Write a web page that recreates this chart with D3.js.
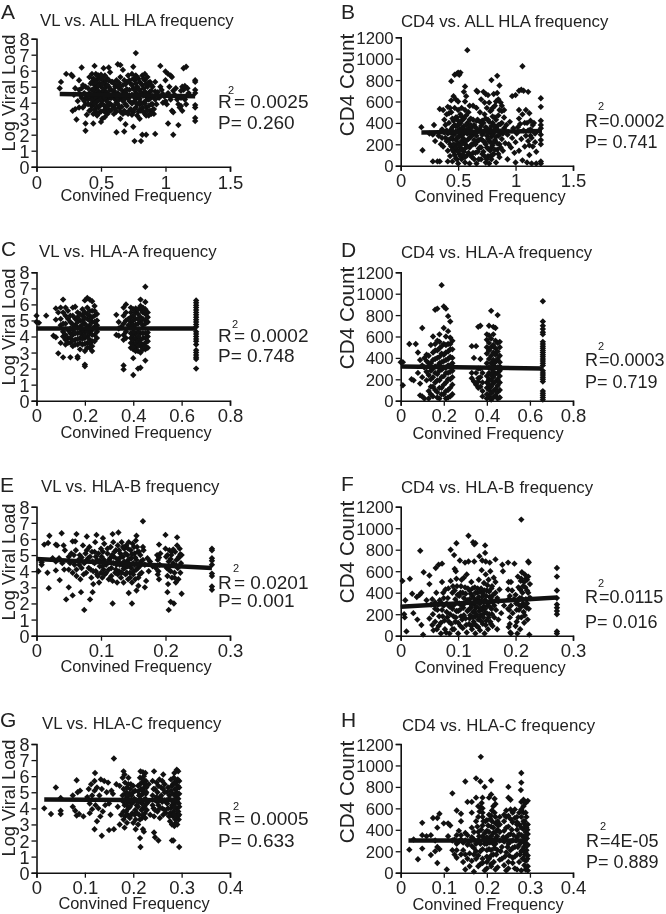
<!DOCTYPE html>
<html><head><meta charset="utf-8">
<script src="https://cdn.jsdelivr.net/npm/d3@7"></script>
<style>html,body{margin:0;padding:0;background:#fff}svg{display:block;font-family:"Liberation Sans",Arial,sans-serif;filter:blur(.3px)}text{fill:#222}</style>
</head><body><svg id="c" width="666" height="914"></svg>
<script>
const pointsA=[[.77,7.1],[.35,6.2],[.45,6.3],[.52,6.15],[.56,6.2],[.63,6.4],[.65,6.35],[.67,6.05],[.75,6.25],[.96,6.3],[1.14,6.15],[1.16,6.25],[1.0,5.95],[1.02,5.8],[1.04,5.7],[1.05,5.6],[.23,5.8],[.27,5.75],[.28,5.65],[.19,5.3],[.33,5.4],[.18,4.9],[.28,3.5],[.3,3.6],[.31,2.95],[.32,4.1],[.33,3.7],[.38,2.7],[.38,2.25],[.39,3.25],[.44,2.7],[.5,2.8],[.62,2.15],[.65,3],[.68,2.2],[.69,2.65],[.75,2.5],[.76,1.6],[.81,1.6],[.82,2],[.85,2],[.92,2.05],[1.02,2.7],[1.06,2],[1.1,2.6],[1.23,5.4],[1.23,5.3],[1.23,4.8],[1.23,4.6],[1.23,3.85],[1.23,3.7],[1.23,3.05],[1.23,2.85],[.3,4.9],[.29,4.5],[.35,4.9],[.35,4.3],[.36,5.1],[.37,4.6],[.38,3.9],[.38,5],[.4,4.2],[.4,4.9],[.41,3.5],[.41,5.6],[.42,4.4],[.42,5.2],[.43,3.8],[.43,5.8],[.43,4.8],[.44,3.3],[.44,4.1],[.44,5.5],[.45,4.6],[.45,3.6],[.45,5.1],[.46,5.8],[.46,4],[.46,4.9],[.47,3.2],[.47,4.4],[.47,5.4],[.48,3.7],[.48,4.7],[.48,5.7],[.49,4.2],[.49,5.2],[.49,3.4],[.5,4.5],[.5,5],[.5,3.9],[.5,5.5],[.51,3],[.51,4.7],[.51,4.1],[.52,3.5],[.52,5.3],[.52,4.4],[.53,3.1],[.53,4.9],[.53,3.8],[.53,5.7],[.54,4.2],[.54,5.1],[.55,3.3],[.55,4.6],[.55,5.5],[.56,3.9],[.56,5],[.57,4.3],[.57,5.9],[.57,3.5],[.58,4.8],[.59,3.8],[.59,5.3],[.6,4.4],[.6,3.3],[.61,5],[.62,4],[.62,5.4],[.63,4.6],[.64,3.7],[.65,5.6],[.66,4.3],[.67,5.1],[.68,3.5],[.68,4.7],[.69,3.9],[.7,5.3],[.7,4.4],[.71,3.3],[.71,5.7],[.72,4.8],[.72,4.1],[.73,3.6],[.73,5.2],[.74,4.5],[.74,5.8],[.75,3.4],[.75,4.9],[.76,4.1],[.76,5.4],[.77,3.7],[.77,4.6],[.77,5.7],[.78,3.2],[.78,5],[.79,4.3],[.79,5.5],[.8,3.9],[.8,4.8],[.8,3],[.81,5.2],[.81,3.5],[.82,4.5],[.82,5.7],[.83,4],[.83,4.9],[.84,3.3],[.84,5.4],[.84,5.8],[.85,4.4],[.85,3.7],[.86,5],[.86,5.6],[.87,3.2],[.87,4.2],[.88,4.7],[.88,5.3],[.88,3.5],[.89,3.9],[.89,3.3],[.9,5],[.9,4.4],[.91,3.3],[.91,3.6],[.92,4.7],[.93,3.9],[.95,4.3],[.96,5],[.97,4.8],[.98,4],[.99,4.4],[1,5.4],[1.01,3.9],[1.02,4.6],[1.03,5],[1.04,4.2],[1.05,3.5],[1.06,3.4],[1.07,4.5],[1.08,4.9],[1.1,3.9],[1.11,3.7],[1.12,4.3],[1.13,5],[1.13,3.5],[1.14,4.8],[1.15,4.2],[1.16,3.9],[1.17,4.9],[1.18,4.6],
[.41,4.6],[.42,3.9],[.43,5.3],[.44,4.45],[.45,3.95],[.45,5.45],[.46,4.3],[.46,5.25],[.47,3.75],[.47,4.8],[.48,4.15],[.48,5.05],[.49,3.8],[.49,4.6],[.49,5.6],[.5,3.45],[.5,4.25],[.51,5.15],[.51,5.55],[.52,3.85],[.52,4.75],[.53,4.3],[.53,3.45],[.54,4.65],[.54,5.4],[.54,3.65],[.55,4.05],[.55,5.1],[.56,4.4],[.56,3.55],[.56,5.4],[.57,4.8],[.57,3.95],[.58,4.3],[.58,5.3],[.59,4.5],[.6,3.8],[.6,5.2],[.61,4.2],[.63,5.1],[.64,4.2],[.7,3.8],[.7,4.85],[.71,4.3],[.72,5.4],[.72,3.5],[.73,4.4],[.74,3.95],[.74,5.1],[.75,4.4],[.75,5.5],[.76,3.6],[.76,4.8],[.77,4.25],[.77,5.2],[.78,3.9],[.78,4.55],[.78,5.6],[.79,3.45],[.79,4.85],[.8,4.25],[.8,5.3],[.8,3.55],[.81,4.6],[.81,4],[.82,5.1],[.82,3.7],[.83,4.45],[.83,5.5],[.83,3.45],[.84,4.7],[.84,3.95],[.85,5.15],[.85,4.15],[.86,3.5],[.86,4.55],[.87,5.25],[.87,3.8],[.88,4.25],[.89,4.75],[.89,5.1],[.9,3.55],[.9,3.9],[.91,4.35],[.92,5.3],[.4,3.9],[.39,4.5],[.38,4.3],[.37,4.1],[.36,3.7],[.34,4.5],[.33,4.8],
[.6,4.75],[.61,3.6],[.61,4.6],[.62,4.35],[.62,3.45],[.63,3.9],[.63,4.3],[.64,4.9],[.64,5.25],[.65,3.45],[.65,4.45],[.65,5.05],[.66,3.75],[.66,4.8],[.67,4.1],[.67,3.3],[.67,4.55],[.68,5.4],[.68,4.2],[.69,4.65],[.69,5.15],[.69,3.4],[.42,3.55],[.43,4.2],[.44,4.85],[.46,3.45],[.47,5.7],[.5,5.75],[.55,3.75],[.58,3.55],[.74,3.25],[.79,3.95],[.85,3.2],[.92,4.2],[.94,4.65],[.98,4.55],[1.0,4.1],[1.03,4.4],[1.06,4.75],[1.09,4.2],[1.12,4.75],[1.15,5.05],[1.16,4.4],[1.12,3.8]];
const pointsB=[[.58,1080],[.47,850],[.49,860],[.5,870],[.51,850],[.52,870],[1.06,930],[.44,790],[.84,840],[.79,800],[.56,740],[.86,750],[1.03,700],[1.05,710],[1.07,700],[1.11,690],[.66,700],[.67,690],[.72,690],[.74,670],[.76,660],[.81,670],[.84,680],[.97,650],[1,660],[.46,650],[.48,620],[.5,600],[.44,610],[.41,550],[.34,530],[.37,520],[.55,690],[.57,650],[.56,600],[.6,560],[.63,560],[.66,540],[.7,620],[.73,590],[.77,590],[.8,540],[.83,600],[.87,590],[.9,520],[1.03,520],[1.09,520],[1.12,490],[1.22,630],[1.22,550],[1.22,420],[1.22,380],[1.22,350],[1.22,290],[1.22,240],[1.22,200],[1.22,40],[1.22,20],[.18,360],[.19,145],[.28,40],[.32,40],[.34,40],[.33,280],[.29,380],[.25,300],[.28,290],[.3,230],[.36,340],[.35,200],[.39,260],[.38,430],[.4,330],[.4,480],[.41,140],[.41,40],[.42,240],[.42,400],[.43,90],[.43,310],[.44,180],[.44,500],[.45,360],[.45,250],[.45,40],[.46,130],[.46,420],[.47,300],[.47,190],[.47,540],[.48,70],[.48,240],[.48,370],[.49,150],[.49,450],[.5,320],[.5,20],[.5,210],[.51,110],[.51,390],[.51,270],[.52,480],[.52,170],[.53,350],[.53,60],[.53,230],[.54,430],[.54,290],[.55,130],[.55,370],[.56,30],[.56,200],[.57,470],[.57,310],[.58,100],[.58,400],[.59,250],[.6,170],[.6,20],[.6,340],[.61,440],[.62,80],[.62,280],[.63,200],[.64,380],[.65,120],[.65,300],[.66,20],[.67,230],[.67,430],[.68,160],[.69,340],[.69,500],[.7,60],[.7,250],[.71,420],[.72,130],[.72,320],[.73,220],[.73,480],[.74,30],[.74,360],[.75,170],[.75,280],[.76,90],[.76,430],[.77,230],[.77,20],[.78,340],[.78,140],[.78,510],[.79,270],[.79,60],[.8,400],[.8,190],[.81,310],[.81,110],[.82,450],[.82,240],[.83,30],[.83,360],[.84,150],[.85,280],[.85,470],[.86,80],[.86,200],[.87,390],[.87,320],[.88,250],[.88,510],[.89,140],[.9,350],[.91,210],[.93,290],[.93,60],[.95,410],[.96,170],[.97,260],[.98,350],[1,30],[1,220],[1.01,300],[1.03,140],[1.04,390],[1.05,250],[1.06,50],[1.07,330],[1.08,180],[1.09,280],[1.1,400],[1.1,30],[1.11,230],[1.12,100],[1.13,340],[1.14,260],[1.14,20],[1.15,180],[1.16,400],[1.17,300],[1.17,220],[1.18,130],[1.18,20],
[.43,200],[.44,340],[.44,260],[.45,150],[.45,440],[.46,290],[.46,200],[.47,380],[.47,100],[.48,320],[.48,170],[.48,450],[.49,260],[.49,370],[.49,60],[.5,130],[.5,420],[.5,270],[.51,190],[.51,340],[.52,90],[.52,300],[.52,400],[.53,150],[.53,280],[.53,460],[.54,210],[.54,350],[.54,100],[.55,250],[.55,440],[.56,160],[.56,330],[.56,80],[.57,230],[.57,380],[.58,180],[.58,300],[.59,350],[.59,120],[.6,260],[.6,430],[.61,190],[.62,360],[.63,120],[.7,170],[.7,370],[.71,110],[.71,290],[.72,230],[.72,400],[.73,320],[.73,90],[.74,200],[.74,440],[.75,350],[.75,60],[.76,250],[.76,160],[.77,310],[.77,410],[.78,220],[.78,90],[.79,370],[.79,170],[.8,290],[.8,100],[.8,460],[.81,220],[.81,380],[.82,340],[.82,150],[.83,270],[.83,430],[.84,210],[.84,340],[.85,110],[.85,380],[.86,290],[.87,170],[.88,400],[.89,300],[1.11,330],[1.12,190],[1.13,280],
[.6,300],[.61,380],[.61,100],[.62,200],[.63,310],[.63,430],[.64,240],[.64,60],[.65,360],[.65,200],[.66,280],[.66,420],[.67,130],[.67,340],[.68,240],[.68,60],[.69,410],[.69,170],[.75,540],[.79,520],[.82,560],[.85,620],[.86,520],[.88,560],[.9,450],[.92,380],[.94,200],[.99,120],[1.02,360],[1.03,440],[1.06,480],[1.08,400],[1.13,420],[1.15,380],[.36,260],[.37,180],[.38,310],[.39,380],[.4,230],[.41,300],[.42,490],[.43,540],[.5,520],[.53,540],[.56,520],[.59,500]];
const pointsC=[[.45,7.1],[.11,6.3],[.43,6.3],[.45,6.15],[.2,6.25],[.21,6.4],[.22,6.3],[.23,6.2],[.37,6],[.36,5.8],[.43,5.9],[.45,5.7],[0,5.3],[.04,5.3],[0,4.9],[.01,4.85],[.33,5.35],[.34,4.9],[.33,4.1],[.34,4.05],[.08,5.75],[.09,5.5],[.08,5.05],[.07,4.05],[.08,3.95],[.09,2.95],[.11,2.7],[.14,2.7],[.17,2.75],[.17,2.65],[.2,2.25],[.2,2.15],[.36,2.2],[.36,1.95],[.4,1.6],[.4,2.65],[.42,2],[.43,2.05],[.45,2.5],[.66,2],[.66,2.6],[.66,2.7],[.66,2.85],[.66,3],[.66,3.15],[.66,3.5],[.66,3.7],[.66,3.85],[.66,4],[.66,4.15],[.66,4.3],[.66,4.6],[.66,4.75],[.66,4.9],[.66,5.05],[.66,5.2],[.66,5.35],[.66,5.5],[.66,5.65],[.66,5.8],[.66,5.95],[.66,6.1],[.66,6.25],[.1,5.8],[.1,5.1],[.1,4.7],[.1,3.6],[.11,5.5],[.11,4.3],[.11,4],[.12,5.8],[.12,5.3],[.12,3.5],[.12,4.8],[.13,5.1],[.13,3.9],[.13,5.6],[.14,4.2],[.14,4.9],[.14,3.6],[.15,5.8],[.15,5.3],[.15,3.4],[.15,4.1],[.16,4.7],[.16,3.8],[.16,5.85],[.17,5.5],[.17,4.2],[.17,3.5],[.18,5],[.18,3.9],[.18,4.6],[.18,3.2],[.19,5.3],[.19,4.1],[.19,3.5],[.19,5.7],[.2,4.8],[.2,3.9],[.2,3.1],[.2,5.5],[.2,4.3],[.21,5.1],[.21,3.6],[.21,4],[.21,5.8],[.22,4.7],[.22,3.3],[.22,5.3],[.22,4.2],[.22,3.8],[.23,5.6],[.23,4.9],[.23,3.1],[.23,4.4],[.23,3.7],[.24,5.9],[.24,5.3],[.24,4.6],[.24,4.1],[.25,5.4],[.25,5],[.25,3.9],[.25,4.3],[.36,5.3],[.36,4.8],[.36,4.1],[.36,3.8],[.37,5.5],[.37,5],[.37,3.9],[.38,5.1],[.39,5.8],[.39,5.5],[.39,5.2],[.39,4.9],[.39,4.2],[.39,3.9],[.39,3.6],[.39,3.3],[.4,5.7],[.4,5.3],[.4,5],[.4,4.7],[.4,4.1],[.4,3.8],[.4,3.5],[.4,3.2],[.41,5.5],[.41,5.1],[.41,4.2],[.41,3.9],[.41,3.6],[.41,3.3],[.42,5.4],[.42,4.8],[.42,4],[.42,3.7],[.42,3.1],[.43,5.7],[.43,5.2],[.43,4.9],[.43,4.2],[.43,3.8],[.43,3.4],[.43,3],[.44,5.5],[.44,5.1],[.44,4.7],[.44,3.9],[.44,3.5],[.45,5.4],[.45,5],[.45,4.8],[.45,4.2],[.45,3.9],[.45,3.6],[.45,3.2],[.46,5.5],[.46,5.2],[.46,4.9],[.46,4],[.46,3.7],[.46,3.3],
[.11,4.8],[.12,4.1],[.12,3.8],[.13,4.4],[.13,3.6],[.14,5.3],[.14,4.5],[.14,3.9],[.15,4.75],[.15,3.75],[.15,4.4],[.16,5.1],[.16,4.2],[.16,3.5],[.17,4.9],[.17,3.85],[.17,4.55],[.17,5.2],[.18,5.4],[.18,4.25],[.18,3.6],[.19,4.75],[.19,3.85],[.19,5],[.19,4.4],[.2,5.15],[.2,4.05],[.2,3.55],[.21,4.6],[.21,3.3],[.21,4.3],[.21,5.4],[.22,5],[.22,3.55],[.22,4.45],[.22,5.6],[.23,5.2],[.23,4.1],[.23,3.4],[.24,4.9],[.24,3.7],[.24,5.6],[.25,4.7],[.41,4.75],[.41,5.75],[.42,5.1],[.42,4.3],[.42,3.45],[.43,3.6],[.44,4.2],[.44,3.2],[.44,5.8],[.45,3.4],[.46,4.25],[.39,4.65],[.4,4.3],[.4,3.35],[.41,3.1],[.42,5.7],[.38,4.7],[.37,4.3],[.35,4.6],[.34,4.5]];
const pointsD=[[.19,1080],[.16,850],[.17,860],[.2,880],[.21,860],[.22,790],[.23,740],[.66,930],[.42,840],[.45,800],[.1,680],[.36,690],[.37,700],[.41,700],[.43,690],[.44,680],[.04,530],[.07,530],[.0,360],[.01,360],[.01,145],[.05,200],[.06,190],[.08,260],[.09,50],[.1,40],[.11,20],[.08,450],[.09,380],[.66,740],[.66,700],[.66,670],[.66,640],[.66,620],[.66,550],[.66,530],[.66,510],[.66,490],[.66,470],[.66,450],[.66,430],[.66,410],[.66,390],[.66,370],[.66,350],[.66,330],[.66,280],[.66,260],[.66,240],[.66,220],[.66,200],[.66,180],[.66,90],[.66,70],[.66,50],[.66,30],[.66,10],[.33,510],[.35,510],[.34,400],[.33,260],[.33,210],[.34,180],[.35,150],[.36,120],[.37,390],[.37,220],[.38,90],[.38,40],[.36,300],[.11,310],[.12,430],[.12,190],[.13,90],[.13,350],[.13,20],[.14,520],[.14,280],[.14,130],[.15,600],[.15,380],[.15,220],[.15,40],[.16,470],[.16,320],[.16,170],[.17,560],[.17,400],[.17,250],[.17,80],[.18,620],[.18,350],[.18,490],[.18,190],[.18,20],[.19,290],[.19,440],[.19,120],[.2,680],[.2,370],[.2,230],[.2,530],[.2,60],[.21,600],[.21,310],[.21,450],[.21,170],[.21,20],[.22,650],[.22,390],[.22,260],[.22,100],[.22,530],[.23,480],[.23,330],[.23,200],[.23,40],[.23,590],[.24,400],[.24,560],[.24,150],[.24,280],[.4,20],[.4,60],[.4,120],[.4,170],[.4,230],[.4,350],[.4,440],[.4,500],[.4,570],[.4,620],[.41,40],[.41,100],[.41,150],[.41,200],[.41,260],[.41,390],[.41,470],[.41,540],[.41,610],[.42,10],[.42,70],[.42,130],[.42,190],[.42,240],[.42,350],[.42,420],[.42,500],[.42,580],[.43,30],[.43,90],[.43,160],[.43,220],[.43,270],[.43,380],[.43,450],[.43,520],[.43,620],[.44,50],[.44,110],[.44,180],[.44,250],[.44,360],[.44,430],[.44,490],[.44,560],[.45,20],[.45,80],[.45,140],[.45,200],[.45,260],[.45,390],[.45,460],[.45,540],[.46,30],[.46,100],[.46,170],[.46,230],[.46,280],[.46,360],[.46,420],[.46,500],[.46,550],
[.13,240],[.13,420],[.14,350],[.14,200],[.14,60],[.15,300],[.15,450],[.15,130],[.16,260],[.16,390],[.16,100],[.16,530],[.17,320],[.17,190],[.17,470],[.17,30],[.18,280],[.18,410],[.18,120],[.18,550],[.19,220],[.19,360],[.19,510],[.19,60],[.2,310],[.2,430],[.2,150],[.21,260],[.21,380],[.21,520],[.21,90],[.22,330],[.22,200],[.22,460],[.22,30],[.23,270],[.23,410],[.23,120],[.23,530],[.24,350],[.24,220],[.24,480],[.24,60],[.12,370],[.12,270],[.11,400],[.1,330],[.1,220],[.09,160],[.35,260],[.36,210],[.36,180],[.37,300],[.38,170],[.38,260],[.37,130],[.41,310],[.42,300],[.43,330],[.44,310],[.45,310],[.46,320]];
const pointsE=[[.165,7.1],[.02,6.2],[.039,6.35],[.062,6.3],[.078,6.15],[.093,6.25],[.103,6.05],[.118,6.3],[.127,6.4],[.155,6.2],[.2,6.25],[.218,6.1],[.012,5.65],[.018,5.75],[.03,5.65],[.032,5.6],[.042,5.6],[.056,5.85],[.06,5.85],[.044,5.3],[.19,5.65],[.008,4.4],[.008,4.55],[.003,4],[.017,3.9],[.019,2.95],[.03,4.05],[.036,3.45],[.043,4.1],[.046,2.25],[.05,3],[.056,2.5],[.069,2.7],[.074,1.6],[.083,2.25],[.087,2.7],[.118,2],[.143,2.65],[.148,2],[.155,2.8],[.168,3],[.203,2.7],[.205,1.6],[.208,2.1],[.213,2],[.225,2.6],[.272,5.4],[.272,5.3],[.272,4.8],[.272,4.65],[.272,4.4],[.272,3.85],[.272,3.7],[.272,3.05],[.272,2.85],[.025,4.8],[.03,4.6],[.035,4.8],[.04,4.5],[.05,4.1],[.05,4.9],[.054,5.1],[.056,3.9],[.059,4.4],[.061,5.3],[.062,3.7],[.065,4.7],[.067,5],[.068,3.5],[.07,4.2],[.072,5.6],[.074,4.5],[.076,5.1],[.077,3.9],[.08,4.8],[.082,5.5],[.084,4.1],[.085,3.6],[.087,4.6],[.088,3.2],[.09,5.2],[.091,5.8],[.092,4],[.094,4.7],[.095,3.7],[.097,3.3],[.098,4.3],[.1,5.4],[.101,4.9],[.102,3.6],[.104,4.1],[.105,5.7],[.107,4.5],[.108,3.9],[.11,5.1],[.112,3.5],[.113,4.7],[.115,5.5],[.116,4.2],[.118,3.4],[.119,5.8],[.12,4.9],[.122,3.9],[.123,5.3],[.124,4.4],[.125,3.3],[.126,5.6],[.127,4.7],[.128,4],[.13,5.1],[.131,3.6],[.132,5.8],[.133,4.4],[.134,4.9],[.135,3.3],[.136,5.4],[.137,4.2],[.138,3.8],[.139,5.6],[.14,4.6],[.141,5],[.142,3.5],[.143,5.8],[.144,4.3],[.145,3.9],[.146,5.3],[.147,4.8],[.148,3.3],[.149,5.7],[.15,4.5],[.151,4],[.152,5.1],[.153,3.5],[.154,5.9],[.155,4.7],[.156,5.5],[.157,4.2],[.158,3.1],[.159,5.2],[.16,3.8],[.162,4.6],[.165,5.5],[.166,5.3],[.168,4.4],[.17,3.4],[.172,4.8],[.174,4],[.176,4.6],[.18,4.3],[.187,5],[.188,4.7],[.189,4],[.19,3.5],[.191,4.4],[.192,5.1],[.2,5.4],[.201,4.9],[.202,4.2],[.203,3.7],[.204,3.2],[.205,4.6],[.206,5.3],[.208,4],[.209,5],[.21,3.6],[.212,4.5],[.214,3.9],[.215,5.2],[.216,3.3],[.217,4.7],[.218,5.6],[.219,4.2],[.22,3.5],[.221,4.9],[.222,5.4],[.223,3.9],[.224,4.5],[.225,5],
[.052,4.5],[.058,5],[.062,4.1],[.066,4.4],[.07,4.85],[.073,3.8],[.076,4.6],[.078,5.3],[.081,4.2],[.083,4.9],[.086,5.2],[.088,4],[.09,4.5],[.092,4.9],[.094,3.8],[.096,5.1],[.098,4.65],[.1,3.9],[.102,4.3],[.103,5.2],[.105,4.7],[.106,3.8],[.108,4.4],[.11,5.4],[.112,4.1],[.114,4.8],[.116,3.7],[.117,5],[.119,4.5],[.121,5.2],[.123,4.1],[.125,4.75],[.126,3.8],[.128,5.3],[.129,4.4],[.131,4.9],[.132,3.9],[.134,5.5],[.135,4.15],[.136,4.6],[.138,5.1],[.14,3.9],[.141,4.3],[.142,5.4],[.144,4.75],[.145,3.6],[.147,4.2],[.148,5.05],[.15,3.8],[.151,5.5],[.152,4.4],[.153,4.85],[.155,4.1],[.157,5.2],[.158,3.6],[.16,4.3],[.161,5],[.163,3.9],[.165,4.7],[.203,5],[.205,4.1],[.208,4.75],[.21,5.2],[.214,3.6],[.217,4.35],[.22,4.8],[.223,5.05],[.19,4.85],[.188,3.8],[.212,5.35],[.185,4.2]];
const pointsF=[[.21,1080],[.118,930],[.126,870],[.13,860],[.128,850],[.097,860],[.147,840],[.087,800],[.034,790],[.147,770],[.093,750],[.137,740],[.103,700],[.112,680],[.118,690],[.128,690],[.142,700],[.148,690],[.165,710],[.155,680],[.177,660],[.187,680],[.198,670],[.222,690],[.223,680],[.072,670],[.066,660],[.061,630],[.04,590],[.05,560],[.003,510],[.016,530],[.02,390],[.028,360],[.033,380],[.036,400],[.008,330],[.006,200],[.007,170],[.01,40],[.022,210],[.029,150],[.036,100],[.039,10],[.272,630],[.272,550],[.272,420],[.272,350],[.272,290],[.272,260],[.272,230],[.272,200],[.272,40],[.272,20],[.045,330],[.05,480],[.053,290],[.056,200],[.057,50],[.06,130],[.062,400],[.064,240],[.066,90],[.068,330],[.07,20],[.072,500],[.073,180],[.075,280],[.077,60],[.078,430],[.08,220],[.082,350],[.084,130],[.085,20],[.087,510],[.088,280],[.09,400],[.09,60],[.092,180],[.094,620],[.095,340],[.096,600],[.097,230],[.098,460],[.1,120],[.1,20],[.102,300],[.104,400],[.105,180],[.106,520],[.108,70],[.109,260],[.11,350],[.112,450],[.113,160],[.115,570],[.115,30],[.116,230],[.118,320],[.119,110],[.12,420],[.121,190],[.122,260],[.123,500],[.124,60],[.125,370],[.126,220],[.127,130],[.128,300],[.129,450],[.13,20],[.13,180],[.131,260],[.132,90],[.133,400],[.134,340],[.135,150],[.136,520],[.137,230],[.138,50],[.138,300],[.14,440],[.14,190],[.141,610],[.142,360],[.143,110],[.144,270],[.145,490],[.146,20],[.146,210],[.147,330],[.148,570],[.149,140],[.15,420],[.151,280],[.152,60],[.153,520],[.154,200],[.155,360],[.156,600],[.157,110],[.158,250],[.159,460],[.16,310],[.162,540],[.163,170],[.165,400],[.166,240],[.168,60],[.17,320],[.172,430],[.175,210],[.178,600],[.18,280],[.187,430],[.188,340],[.189,240],[.19,110],[.191,30],[.192,500],[.195,210],[.2,380],[.201,300],[.202,130],[.203,20],[.204,550],[.205,450],[.206,240],[.207,350],[.208,60],[.209,510],[.21,170],[.211,590],[.212,400],[.213,300],[.214,220],[.215,120],[.216,570],[.217,450],[.218,340],[.219,260],[.22,520],[.221,150],[.222,400],[.223,250],[.224,10],[.225,480],[.226,350],
[.092,280],[.094,420],[.096,170],[.098,310],[.1,230],[.102,370],[.104,90],[.106,280],[.108,400],[.11,190],[.111,300],[.113,390],[.114,100],[.116,330],[.117,440],[.118,240],[.12,160],[.12,340],[.122,390],[.123,90],[.124,280],[.125,440],[.126,170],[.127,350],[.128,230],[.129,110],[.13,400],[.131,320],[.132,200],[.133,270],[.134,440],[.135,80],[.136,360],[.137,170],[.138,410],[.139,250],[.14,320],[.141,130],[.142,240],[.143,390],[.144,170],[.145,310],[.146,420],[.147,250],[.148,100],[.149,370],[.15,210],[.151,470],[.152,300],[.153,170],[.154,410],[.155,270],[.156,130],[.157,350],[.158,440],[.159,200],[.16,90],[.161,380],[.163,280],[.165,500],[.168,350],[.17,150],[.055,340],[.06,310],[.065,290],[.07,310],[.075,350],[.08,300],[.085,270],[.21,350],[.215,280],[.22,420],[.205,290],[.19,370],[.215,500],[.21,530],
[.05,160],[.055,100],[.06,250],[.063,60],[.067,180],[.07,120],[.072,240],[.074,400],[.076,140],[.079,30],[.081,170],[.083,440],[.086,200],[.088,110],[.09,250],[.091,460],[.093,60],[.095,130],[.097,530],[.099,380],[.103,240],[.105,460],[.107,150],[.11,540],[.187,250],[.188,500],[.19,170],[.192,280],[.194,420],[.197,340],[.2,90],[.202,240],[.205,170],[.208,430],[.21,270],[.213,460],[.216,190],[.218,530],[.22,300],[.222,550],[.224,350],[.188,80],[.192,20]];
const pointsG=[[.16,7.1],[.121,6.2],[.18,6.3],[.182,6.1],[.215,6.3],[.22,6.25],[.225,6.2],[.243,6.3],[.262,6.1],[.29,6.4],[.293,6.3],[.285,6.2],[.04,5.3],[.083,5.75],[.12,5.7],[.133,5.8],[.016,4],[.03,3.65],[.05,3.85],[.05,3.65],[.05,4.65],[.075,4.1],[.08,3.85],[.083,3.55],[.088,3.65],[.097,3.5],[.09,5.1],[.085,5],[.075,4.8],[.11,3.7],[.115,3.95],[.12,2.7],[.125,3.2],[.135,2.3],[.15,2.65],[.16,2.7],[.172,3],[.182,2.8],[.205,2.7],[.214,2.15],[.215,1.6],[.22,2.7],[.222,2.55],[.243,2.5],[.245,2.2],[.252,2],[.28,2],[.283,2],[.295,1.6],[.105,4.7],[.108,5.2],[.11,4.3],[.113,5.5],[.115,4.8],[.12,5.1],[.122,4.2],[.125,5.3],[.128,4],[.13,4.8],[.132,3.5],[.135,5.2],[.137,3.8],[.14,5.7],[.142,4.2],[.145,5],[.148,5.6],[.15,4.3],[.153,3.6],[.155,5.1],[.158,4.9],[.165,5.5],[.168,4.1],[.172,5.4],[.175,3.6],[.178,4.8],[.178,5.9],[.18,3.3],[.18,5.2],[.182,4.2],[.183,5.6],[.185,3.8],[.185,4.6],[.187,3.1],[.187,5.3],[.19,5.9],[.19,4],[.192,4.9],[.193,3.4],[.195,5.5],[.197,4.3],[.198,3.7],[.2,5],[.2,3.1],[.202,4.6],[.204,3.9],[.205,3.3],[.207,4.2],[.21,5.4],[.21,3],[.212,4.8],[.212,3.6],[.214,5.9],[.215,4.4],[.216,5.2],[.218,3.4],[.218,5.6],[.22,4.9],[.22,4],[.222,6],[.223,5.3],[.224,3.7],[.225,4.6],[.226,5.7],[.227,5],[.228,3.9],[.23,4.4],[.232,5.5],[.235,3.6],[.24,4.8],[.24,5.7],[.242,4],[.243,3.5],[.245,5.2],[.246,4.5],[.248,5.6],[.25,3.8],[.25,5],[.252,4.2],[.254,5.8],[.255,3.4],[.256,4.7],[.258,5.3],[.26,4],[.26,5.7],[.262,3.6],[.264,4.5],[.265,5],[.268,3.7],[.27,4.3],[.272,5.3],[.274,3.5],[.275,4.8],[.276,3.2],[.278,4],[.278,5.8],[.28,3],[.28,5.4],[.28,4.5],[.282,3.5],[.282,4.9],[.284,3.8],[.284,5.9],[.285,2.9],[.285,4.3],[.286,5.2],[.287,3.3],[.288,5.6],[.288,4.7],[.289,4],[.29,3.6],[.29,5],[.291,3],[.291,4.4],[.292,5.4],[.292,5.8],[.293,3.8],[.293,4.6],[.294,3.3],[.295,4.1],[.295,4.9],[.295,5.3],
[.18,4.4],[.18,3.8],[.183,4.9],[.183,3.5],[.186,4.2],[.186,5],[.188,3.6],[.188,4.7],[.19,5.5],[.19,4.4],[.193,4.1],[.194,5.2],[.196,3.6],[.196,4.8],[.2,4.4],[.2,5.4],[.203,3.6],[.204,5.1],[.206,4.5],[.208,3.7],[.21,4.1],[.21,5.05],[.212,4.4],[.214,3.3],[.214,5.5],[.216,4.8],[.217,3.9],[.218,4.3],[.219,5.1],[.22,3.6],[.22,5.8],[.222,4.5],[.223,4.1],[.224,5.5],[.225,3.4],[.226,4.9],[.227,5.3],[.228,4.3],[.24,4.2],[.242,5.2],[.245,3.9],[.248,4.7],[.25,4.4],[.252,5.4],[.255,4],[.258,4.8],[.26,4.4],[.262,5.2],[.265,3.9],[.265,5.5],[.268,4.5],[.27,5],[.272,4],[.274,4.6],[.276,3.7],[.278,5.1],[.28,3.6],[.28,4.2],[.282,5.5],[.283,4.4],[.285,3.6],[.285,5.6],[.286,4.1],[.287,4.8],[.288,3.1],[.289,5.2],[.29,4.4],[.292,3.5],[.292,4.9],[.294,4.3],[.295,3.6],[.295,5.7]];
const pointsH=[[.186,1080],[.28,930],[.175,880],[.185,850],[.21,860],[.15,850],[.28,840],[.195,800],[.25,800],[.279,770],[.12,740],[.21,730],[.205,700],[.218,690],[.175,700],[.19,700],[.25,700],[.255,680],[.155,660],[.165,660],[.28,660],[.285,680],[.29,650],[.295,670],[.285,620],[.18,620],[.19,600],[.22,640],[.075,510],[.085,510],[.09,550],[.05,465],[.1,460],[.13,580],[.14,550],[.165,560],[.06,340],[.05,350],[.07,350],[.03,310],[.02,215],[.05,225],[.04,125],[.07,165],[.08,200],[.085,90],[.085,240],[.09,220],[.107,30],[.08,300],[.085,420],[.11,340],[.11,460],[.115,440],[.12,300],[.12,210],[.125,170],[.13,270],[.13,350],[.13,140],[.135,390],[.14,480],[.14,310],[.145,210],[.145,100],[.15,370],[.15,30],[.155,260],[.16,180],[.16,60],[.165,420],[.165,330],[.17,10],[.17,230],[.175,130],[.175,480],[.18,380],[.18,300],[.18,520],[.185,200],[.185,80],[.19,440],[.19,340],[.19,560],[.195,270],[.195,20],[.2,390],[.2,150],[.2,490],[.2,100],[.205,320],[.205,220],[.21,430],[.21,60],[.21,530],[.215,370],[.215,270],[.215,170],[.22,460],[.22,320],[.225,210],[.225,50],[.225,400],[.23,520],[.23,300],[.235,130],[.235,240],[.24,390],[.24,480],[.245,20],[.245,330],[.245,190],[.245,520],[.25,270],[.25,100],[.25,430],[.255,590],[.255,360],[.255,210],[.26,140],[.26,470],[.26,300],[.265,590],[.265,40],[.265,240],[.27,400],[.27,170],[.27,520],[.27,330],[.275,100],[.275,260],[.275,450],[.28,200],[.28,350],[.28,20],[.28,520],[.282,290],[.283,130],[.284,410],[.285,560],[.286,240],[.287,70],[.287,330],[.288,480],[.288,170],[.29,380],[.29,270],[.29,30],[.29,440],[.291,110],[.292,210],[.292,520],[.293,320],[.294,400],[.295,160],[.295,60],[.295,260],[.295,360],[.295,20],
[.125,310],[.135,290],[.14,350],[.145,280],[.15,300],[.155,350],[.16,290],[.165,250],[.17,310],[.17,380],[.175,270],[.175,200],[.178,430],[.18,160],[.182,340],[.185,270],[.187,400],[.19,220],[.19,130],[.193,310],[.195,370],[.197,480],[.2,270],[.2,330],[.2,210],[.203,440],[.205,380],[.205,130],[.207,280],[.21,340],[.21,210],[.21,160],[.212,480],[.214,300],[.215,420],[.216,100],[.218,230],[.22,380],[.22,270],[.222,170],[.224,340],[.226,440],[.23,380],[.232,200],[.238,330],[.24,290],[.242,150],[.245,420],[.248,240],[.25,350],[.252,160],[.255,290],[.258,400],[.26,230],[.262,350],[.265,150],[.268,300],[.27,450],[.272,240],[.275,360],[.277,170],[.28,290],[.28,420],[.282,210],[.284,340],[.285,130],[.286,460],[.288,280],[.29,190],[.29,340],[.292,420],[.293,250],[.294,130],[.295,450],
[.183,570],[.186,610],[.188,650],[.19,520],[.192,480],[.205,540],[.208,500],[.212,580],[.215,620],[.218,560],[.22,520],[.225,480],[.23,450],[.24,540],[.245,580],[.25,530],[.255,500],[.26,560],[.265,510],[.27,470],[.275,560],[.28,590],[.285,480],[.29,560],[.21,80],[.22,30],[.23,120],[.24,70],[.25,40],[.26,90],[.27,30],[.19,90],[.2,40],[.18,60],[.165,110],[.17,170],[.15,170],[.155,130],[.14,170],[.13,210]];

const xTickSets=[[0,.5,1,1.5],[0,.2,.4,.6,.8],[0,.1,.2,.3],[0,.1,.2,.3,.4]];
const vlTicks=[0,1,2,3,4,5,6,7,8];
const cd4Ticks=[0,200,400,600,800,1000,1200];
const tickFormat=v=>String(v);

const panels=[
 {l:"A",t:"VL vs. ALL HLA frequency",pts:pointsA,xt:0,vl:1,fit:[[.18,4.55],[1.23,4.4]],r:"= 0.0025",p:"P= 0.260",
  X:36.5,W:193.5,top:38.7,bot:166.7,lb:[1,19],tb:[40,26],ss:[218,108,129,228,94],xb:[189,201,136],yc:93},
 {l:"B",t:"CD4 vs. ALL HLA frequency",pts:pointsB,xt:0,vl:0,fit:[[.18,310],[1.23,325]],r:"=0.0002",p:"P= 0.741",
  X:400.7,W:172.3,top:37.3,bot:165.7,lb:[341,19],tb:[401,27],ss:[585,127,148,598,110],xb:[187,202,490],yc:85},
 {l:"C",t:"VL vs. HLA-A frequency",pts:pointsC,xt:1,vl:1,fit:[[0,4.5],[.66,4.5]],r:"= 0.0002",p:"P= 0.748",
  X:36.5,W:193.5,top:272.3,bot:400.7,lb:[1,256],tb:[39,257],ss:[218,342,362,232,328],xb:[422,438,136],yc:327},
 {l:"D",t:"CD4 vs. HLA-A frequency",pts:pointsD,xt:1,vl:0,fit:[[0,320],[.66,300]],r:"=0.0003",p:"P= 0.719",
  X:400.7,W:172.3,top:272.3,bot:400.7,lb:[341,257],tb:[401,258],ss:[585,366,388,598,350],xb:[422,439,488],yc:318},
 {l:"E",t:"VL vs. HLA-B frequency",pts:pointsE,xt:2,vl:1,fit:[[0,4.75],[.272,4.2]],r:"= 0.0201",p:"P= 0.001",
  X:36.5,W:193.5,top:506.7,bot:635.7,lb:[0,492],tb:[41,492],ss:[218,589,607,233,572],xb:[657,672,136],yc:562},
 {l:"F",t:"CD4 vs. HLA-B frequency",pts:pointsF,xt:2,vl:0,fit:[[0,270],[.272,355]],r:"=0.0115",p:"P= 0.016",
  X:400.7,W:172.3,top:506.7,bot:635.7,lb:[341,491],tb:[401,493],ss:[585,603,628,598,587],xb:[657,673,490],yc:552},
 {l:"G",t:"VL vs. HLA-C frequency",pts:pointsG,xt:3,vl:1,fit:[[.016,4.55],[.295,4.5]],r:"= 0.0005",p:"P= 0.633",
  X:36.5,W:193.5,top:744,bot:872.7,lb:[0,727],tb:[42,729],ss:[218,825,847,233,810],xb:[894,909,134],yc:798},
 {l:"H",t:"CD4 vs. HLA-C frequency",pts:pointsH,xt:3,vl:0,fit:[[.018,300],[.295,300]],r:"=4E-05",p:"P= 0.889",
  X:400.7,W:172.3,top:744,bot:872.7,lb:[341,727],tb:[402,731],ss:[586,847,868,600,830],xb:[894,910,488],yc:792}
];

const svg=d3.select("#c");
const ink="#111";
panels.forEach(p=>{
  const xt=xTickSets[p.xt], yt=p.vl?vlTicks:cd4Ticks;
  const x=d3.scaleLinear().domain([0,xt[xt.length-1]]).range([p.X,p.X+p.W]);
  const y=d3.scaleLinear().domain([0,yt[yt.length-1]]).range([p.bot,p.top]);
  const g=svg.append("g");
  const sym=d3.symbol().type(d3.symbolDiamond2).size(26)();
  g.append("g").selectAll("path").data(p.pts).join("path")
    .attr("d",sym).attr("fill",ink)
    .attr("transform",d=>`translate(${x(d[0])},${y(d[1])})`);
  g.append("path").attr("d",d3.line().x(d=>x(d[0])).y(d=>y(d[1]))(p.fit))
    .attr("stroke",ink).attr("stroke-width",4.5).attr("fill","none");
  const ax=g.append("g").attr("transform",`translate(0,${p.bot})`)
    .call(d3.axisBottom(x).tickValues(xt).tickFormat(tickFormat).tickSize(5).tickPadding(2));
  const ay=g.append("g").attr("transform",`translate(${p.X},0)`)
    .call(d3.axisLeft(y).tickValues(yt).tickFormat(tickFormat).tickSize(5).tickPadding(2));
  [ax,ay].forEach(a=>{
    a.select(".domain").attr("stroke",ink).attr("stroke-width",1.6);
    a.selectAll(".tick line").attr("stroke",ink).attr("stroke-width",1.3);
    a.selectAll("text").attr("fill","#222")
      .attr("font-family","'Liberation Sans',Arial,sans-serif");
  });
  ax.selectAll("text").attr("font-size",18.5).attr("dy",null).attr("y",p.xb[0]-p.bot);
  ay.selectAll("text").attr("font-size",p.vl?18:16.8).attr("dy","0.36em");
  const T=(s,tx,ty,fs,a)=>g.append("text").text(s).attr("x",tx).attr("y",ty).attr("font-size",fs).attr("text-anchor",a||"start");
  T(p.l,p.lb[0],p.lb[1],21);
  T(p.t,p.tb[0],p.tb[1],16.8);
  T("Convined Frequency",p.xb[2],p.xb[1],16.4,"middle");
  const yx=p.vl?15:354;
  g.append("text").text(p.vl?"Log Viral Load":"CD4 Count")
    .attr("transform",`translate(${yx},${p.yc}) rotate(-90)`)
    .attr("text-anchor","middle").attr("font-size",p.vl?18.2:20.7);
  const [sx,ry,py,sux,suy]=p.ss;
  const fs=p.vl?19:18;
  const rt=g.append("text").attr("x",sx).attr("y",ry).attr("font-size",fs);
  rt.append("tspan").text("R");
  rt.append("tspan").attr("x",sux).attr("y",suy).attr("font-size",11).text("2");
  rt.append("tspan").attr("x",sx+(p.vl?16:14)).attr("y",ry).text(p.r);
  T(p.p,sx,py,fs);
});
</script></body></html>
